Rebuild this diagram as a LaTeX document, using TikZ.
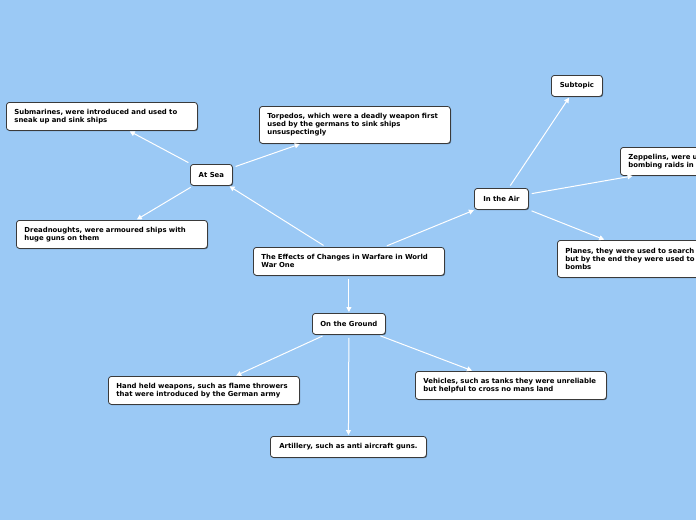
\documentclass[tikz,border=0pt]{standalone}
\usepackage{fontspec}
\setmainfont{DejaVu Sans}
\usetikzlibrary{arrows.meta,shadows}
\definecolor{bgblue}{HTML}{9BC9F5}
\definecolor{boxline}{HTML}{3A3A3A}
\begin{document}
\begin{tikzpicture}[x=1pt,y=-1pt,
  box/.style={draw=boxline, line width=0.8pt, fill=white, rounded corners=3pt,
    drop shadow={shadow xshift=0.8pt, shadow yshift=-0.8pt, opacity=0.45, fill=black},
    font=\fontsize{6.9}{8}\selectfont\bfseries, anchor=north west, inner ysep=2pt},
  wide/.style={box, text width=175pt, inner xsep=8pt, align=left, minimum height=#1},
  small/.style={box, inner xsep=0pt, align=center, minimum width=#1, minimum height=21pt},
  conn/.style={draw=white, line width=1pt, -{Triangle[length=5pt,width=5pt]}, shorten <=3pt, shorten >=1pt}
]
\fill[bgblue] (0,0) rectangle (696,520);
\useasboundingbox (0,0) rectangle (696,520);
\clip (0,0) rectangle (696,520);

\node[wide=28pt] (main) at (253,247) {The Effects of Changes in Warfare in World\\War One};
\node[small=42pt] (sea) at (190,164) {At Sea};
\node[small=54pt] (air) at (474,188) {In the Air};
\node[small=73pt] (ground) at (312,313) {On the Ground};

\node[wide=28pt] (sub) at (6,102) {Submarines, were introduced and used to\\sneak up and sink ships};
\node[wide=37pt] (torp) at (259,106) {Torpedos, which were a deadly weapon first\\used by the germans to sink ships\\unsuspectingly};
\node[wide=28pt] (dread) at (16,220) {Dreadnoughts, were armoured ships with\\huge guns on them};

\node[small=51pt] (topic) at (551,75) {Subtopic};
\node[wide=28pt] (zep) at (620,147) {Zeppelins, were u\\bombing raids in};
\node[wide=37pt] (plane) at (557,240) {Planes, they were used to search\\but by the end they were used to\\bombs};

\node[wide=28pt] (hand) at (108,376) {Hand held weapons, such as flame throwers\\that were introduced by the German army};
\node[wide=28pt] (veh) at (415,371) {Vehicles, such as tanks they were unreliable\\but helpful to cross no mans land};
\node[small=156pt] (art) at (270,436) {Artillery, such as anti aircraft guns.};

\draw[conn] (main) -- (sea);
\draw[conn] (main) -- (air);
\draw[conn] (main) -- (ground);
\draw[conn] (sea) -- (sub);
\draw[conn] (sea) -- (torp);
\draw[conn] (sea) -- (dread);
\draw[conn] (air) -- (topic);
\draw[conn] (air) -- (zep);
\draw[conn] (air) -- (plane);
\draw[conn] (ground) -- (hand);
\draw[conn] (ground) -- (art);
\draw[conn] (ground) -- (veh);
\end{tikzpicture}
\end{document}
